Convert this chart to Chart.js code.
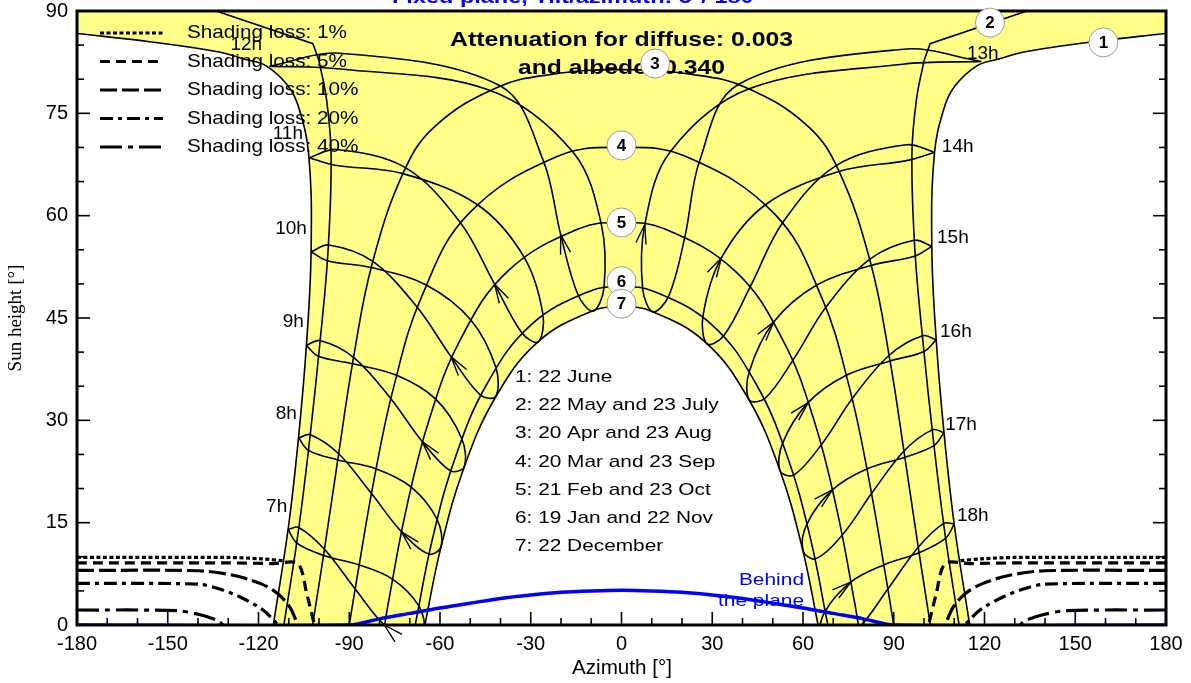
<!DOCTYPE html>
<html>
<head>
<meta charset="utf-8">
<script src="https://cdn.jsdelivr.net/npm/chart.js@4.4.0/dist/chart.umd.min.js"></script>
<style>
  html, body { margin: 0; padding: 0; background: #fff; }
  canvas { display: block; }
</style>
</head>
<body>
<canvas id="chart" width="1191" height="683"></canvas>
<script>
// AXES
const xTicks = [-180, -150, -120, -90, -60, -30, 0, 30, 60, 90, 120, 150, 180];
const yTicks = [0, 15, 30, 45, 60, 75, 90];

// SUN PATHS [azimuth, height]
const path1West = [[-115.1,0],[-110.1,14.4],[-106.7,27.8],[-104.1,41.4],[-102.6,55.1],[-103.4,68.9],[-106.6,75.7],[-110.2,79.0],[-117.6,82.0],[-125.0,83.0],[-133.0,84.0],[-156.0,85.5],[-180.0,86.7]];
const path1East = [[180.0,86.7],[156.0,85.5],[133.0,84.0],[125.0,83.0],[117.6,82.0],[110.2,79.0],[106.6,75.7],[103.4,68.9],[102.6,55.1],[104.1,41.4],[106.7,27.8],[110.1,14.4],[115.1,0]];
const path2West = [[-111.6,0],[-106.9,13.5],[-103.1,27.1],[-99.8,40.9],[-97.0,54.9],[-96.0,68.9],[-97.5,77.0],[-100.0,82.7]];
const path2WestTop = [[-100.0,82.7],[-102.0,85.2],[-134.0,90.0],[-166.0,94.8]];
const path2East = [[100.0,82.7],[97.5,77.0],[96.0,68.9],[97.0,54.9],[99.8,40.9],[103.1,27.1],[106.9,13.5],[111.6,0]];
const path2EastTop = [[166.0,94.8],[134.0,90.0],[102.0,85.2],[100.0,82.7]];
const path3 = [[-102.1,0],[-98.3,10.8],[-93.6,24.8],[-88.7,38.9],[-82.4,53.0],[-71.7,66.7],[-61.4,73.2],[-41.1,78.8],[-23.3,80.7],[0,81.4],[23.3,80.7],[41.1,78.8],[61.4,73.2],[71.7,66.7],[82.4,53.0],[88.7,38.9],[93.6,24.8],[98.3,10.8],[102.1,0]];
const path4 = [[-90,0],[-87.4,7.0],[-81.9,21.1],[-75.3,34.9],[-66.0,48.2],[-50.5,60.3],[-21.1,68.7],[0,70.0],[21.1,68.7],[50.5,60.3],[66.0,48.2],[75.3,34.9],[81.9,21.1],[87.4,7.0],[90,0]];
const path5 = [[-78.3,0],[-77.1,3.2],[-71.3,16.7],[-63.8,29.8],[-53.3,41.8],[-37.5,51.9],[-14.0,58.1],[0,59.0],[14.0,58.1],[37.5,51.9],[53.3,41.8],[63.8,29.8],[71.3,16.7],[77.1,3.2],[78.3,0]];
const path6 = [[-68.2,0],[-62.5,12.6],[-54.9,24.6],[-44.4,35.4],[-29.9,44.0],[-10.7,48.9],[0,49.6],[10.7,48.9],[29.9,44.0],[44.4,35.4],[54.9,24.6],[62.5,12.6],[68.2,0]];
const path7 = [[-65.0,0],[-59.8,11.2],[-52.2,22.9],[-41.9,33.2],[-27.9,41.4],[-9.9,46.0],[0,46.6],[9.9,46.0],[27.9,41.4],[41.9,33.2],[52.2,22.9],[59.8,11.2],[65.0,0]];

// HOUR LINES (Jun, Jul, Aug, Sep, Oct, Nov, Dec, Jan, Feb, Mar, Apr, May)
const hour7  = [[-110.2,14.0],[-107.3,12.0],[-98.5,10.2],[-86.7,8.8],[-75.6,6.7],[-67.0,2.8],[-65.3,-1.0],[-69.3,-2.5],[-78.4,0.0],[-88.1,5.3],[-98.2,11.1],[-106.7,14.3]];
const hour8  = [[-106.7,27.4],[-103.5,25.6],[-93.8,24.2],[-81.2,22.9],[-69.5,20.2],[-61.0,15.5],[-59.6,11.5],[-63.7,10.4],[-72.8,13.7],[-82.7,19.3],[-93.5,25.1],[-102.9,27.9]];
const hour9  = [[-104.2,41.0],[-100.2,39.4],[-88.9,38.3],[-74.3,36.6],[-61.4,33.1],[-52.8,27.3],[-52.0,23.2],[-56.5,22.6],[-65.9,26.9],[-76.3,33.2],[-88.5,39.2],[-99.7,41.7]];
const hour10 = [[-102.6,54.7],[-97.3,53.4],[-82.7,52.4],[-64.4,49.8],[-49.8,44.7],[-41.5,37.7],[-41.6,33.5],[-46.6,33.7],[-56.3,39.3],[-67.6,46.6],[-82.2,53.3],[-96.8,55.7]];
const hour11 = [[-103.2,68.5],[-94.7,67.4],[-72.6,66.2],[-47.6,61.6],[-32.3,54.0],[-26.0,45.6],[-27.5,41.5],[-32.9,42.8],[-42.0,50.0],[-53.3,59.0],[-71.3,67.0],[-94.3,69.7]];
const hour12 = [[-116.4,81.9],[-92.9,81.5],[-43.6,78.4],[-16.0,69.3],[-6.7,58.8],[-5.8,49.4],[-9.4,46.0],[-14.4,48.4],[-20.1,57.2],[-25.8,68.0],[-40.0,79.0],[-93.0,83.8]];
const hour13 = [[119.0,82.6],[93.1,84.4],[38.5,79.2],[25.8,68.0],[21.0,57.0],[15.6,48.2],[10.4,45.9],[7.0,49.3],[7.7,58.7],[16.0,69.3],[42.2,78.6],[92.9,82.2]];
const hour14 = [[103.6,69.3],[94.2,70.4],[70.8,67.3],[53.3,59.0],[42.7,49.7],[33.8,42.4],[28.3,41.2],[26.9,45.2],[33.0,53.8],[47.6,61.6],[72.1,66.5],[94.6,68.1]];
const hour15 = [[102.6,55.5],[96.7,56.4],[82.0,53.6],[67.6,46.6],[56.8,38.9],[47.4,33.2],[42.2,33.0],[42.2,37.1],[50.3,44.4],[64.4,49.8],[82.5,52.7],[97.1,54.1]];
const hour16 = [[104.0,41.8],[99.5,42.4],[88.4,39.5],[76.3,33.2],[66.2,26.5],[57.0,22.0],[52.4,22.6],[53.3,26.7],[61.7,32.6],[74.3,36.6],[88.8,38.7],[100.0,40.1]];
const hour17 = [[106.6,28.2],[102.7,28.6],[93.4,25.5],[82.7,19.3],[73.0,13.2],[64.1,9.7],[60.0,10.9],[61.3,14.8],[69.7,19.8],[81.2,22.9],[93.7,24.6],[103.3,26.3]];
const hour18 = [[110.0,14.8],[106.5,14.9],[98.1,11.4],[88.1,5.3],[78.6,-0.4],[69.7,-3.3],[65.6,-1.7],[67.3,2.0],[75.8,6.3],[86.7,8.8],[98.4,10.6],[107.1,12.7]];
const hourNames = ["7h","8h","9h","10h","11h","12h","13h","14h","15h","16h","17h","18h"];

// BEHIND THE PLANE
const behindPlane = [[-180,0],[-90,0],[-80,0.9],[-70,1.7],[-60,2.5],[-50,3.2],[-40,3.9],[-30,4.4],[-20,4.8],[-10,5.0],[0,5.1],[10,5.0],[20,4.8],[30,4.4],[40,3.9],[50,3.2],[60,2.5],[70,1.7],[80,0.9],[90,0],[180,0]];

// SHADING LOSS (iso-curves)
const loss1West  = [[-180,9.9],[-130,9.9],[-119,9.7],[-111.5,9.4]];
const loss1East  = [[180,9.9],[130,9.9],[119,9.7],[111.5,9.4]];
const loss5West  = [[-180,9.1],[-130,9.1],[-115,9.0],[-107,9.0],[-104,4.5],[-101.5,0]];
const loss5East  = [[180,9.1],[130,9.1],[115,9.0],[107,9.0],[104,4.5],[101.5,0]];
const loss10West = [[-180,8.0],[-140,7.95],[-128.4,7.3],[-119.5,6.1],[-113.9,4.7],[-109.6,2.6],[-107,0]];
const loss10East = [[180,8.0],[140,7.95],[128.4,7.3],[119.5,6.1],[113.9,4.7],[109.6,2.6],[107,0]];
const loss20West = [[-180,6.1],[-140.3,6.0],[-133.7,5.4],[-126.1,4.1],[-118.5,2.2],[-113.5,0]];
const loss20East = [[180,6.1],[140.3,6.0],[133.7,5.4],[126.1,4.1],[118.5,2.2],[113.5,0]];
const loss40West = [[-180,2.2],[-147,2.1],[-139.3,1.5],[-133.7,0.7],[-131.7,0]];
const loss40East = [[180,2.2],[147,2.1],[139.3,1.5],[133.7,0.7],[131.7,0]];
const lossLabels = ["Shading loss: 1%","Shading loss: 5%","Shading loss: 10%","Shading loss: 20%","Shading loss: 40%"];
const lossDashes = [[4,2.5],[10,6],[17,5],[13,5,4,5],[22,6,5,6]];

// TEXTS
const dateLabels = ["1: 22 June","2: 22 May and 23 July","3: 20 Apr and 23 Aug","4: 20 Mar and 23 Sep","5: 21 Feb and 23 Oct","6: 19 Jan and 22 Nov","7: 22 December"];
const titleText = "Fixed plane, Tilt/azimuth: 5°/ 180°";
const noteLines = ["Attenuation for diffuse: 0.003", "and albedo: 0.340"];

const SANS = '"Liberation Sans", Arial, sans-serif';
const toXY = arr => arr.map(p => ({x: p[0], y: p[1]}));

function curve(arr, extra) {
  return Object.assign({
    data: toXY(arr), borderColor: "#000", borderWidth: 1.6,
    pointRadius: 0, tension: 0.4, fill: false, order: 2
  }, extra || {});
}

// yellow zone: outer June path + top + inner December path
const dup = p => [p, p];
const rev7 = path7.slice().reverse();
const zone = [].concat(
  path1West, dup(path1West[path1West.length - 1]), [[-181, 96], [181, 96]],
  dup(path1East[0]), path1East, dup(path1East[path1East.length - 1]),
  dup(rev7[0]), rev7, dup(rev7[rev7.length - 1])
);

const hourLines = [hour7, hour8, hour9, hour10, hour11, hour12, hour13, hour14, hour15, hour16, hour17, hour18];

const datasets = [];
datasets.push({data: toXY(zone), borderWidth: 0, borderColor: "rgba(0,0,0,0)", backgroundColor: "#ffff88",
  fill: "shape", pointRadius: 0, tension: 0.4, order: 10});
[path1West, path1East, path2West, path2East, path3, path4, path5, path6, path7].forEach(p => datasets.push(curve(p)));
[path2WestTop, path2EastTop].forEach(p => datasets.push(curve(p, {tension: 0})));
hourLines.forEach(h => datasets.push(curve(h.concat([h[0]]), {tension: 0.35})));
datasets.push(curve(behindPlane, {borderColor: "#0000ff", borderWidth: 3.5, tension: 0.3, order: 1}));
[[loss1West, loss1East], [loss5West, loss5East], [loss10West, loss10East], [loss20West, loss20East], [loss40West, loss40East]]
  .forEach((pair, i) => pair.forEach(p => datasets.push(curve(p, {borderWidth: 3.2, borderDash: lossDashes[i], tension: 0.3, order: 0}))));

// label spots (azimuth, height, align)
const hourSpots = [[-110.5,17.3,"right"],[-107.3,31.0,"right"],[-105.0,44.4,"right"],[-104.0,58.1,"right"],[-105.3,72.0,"right"],[-118.8,85.1,"right"],
                   [114.2,83.7,"left"],[105.9,70.1,"left"],[104.3,56.7,"left"],[105.3,43.0,"left"],[107.0,29.3,"left"],[110.9,16.0,"left"]];
const circleSpots = [[159.3,85.4],[121.8,88.3],[11.1,82.3],[0,70.3],[0,59.0],[0,50.4],[0,47.1]];

// text stretched horizontally by factor sx
function stretchText(ctx, text, x, y, sx, align) {
  ctx.save();
  ctx.translate(x, y);
  ctx.scale(sx, 1);
  ctx.textAlign = align;
  ctx.fillText(text, 0, 0);
  ctx.restore();
}
function factorFor(ctx, sample, width) {
  return width / ctx.measureText(sample).width;
}

const decor = {
  id: "decor",
  afterDatasetsDraw(chart) {
    const {ctx, chartArea: a, scales: {x, y}} = chart;
    const seg = (x1, y1, x2, y2) => { ctx.beginPath(); ctx.moveTo(x1, y1); ctx.lineTo(x2, y2); ctx.stroke(); };
    ctx.save();
    ctx.strokeStyle = "#000";
    ctx.fillStyle = "#000";
    ctx.textBaseline = "middle";

    // arrows (Feb, pointing toward Mar)
    ctx.lineWidth = 1.4;
    hourLines.forEach(h => {
      const px = x.getPixelForValue(h[8][0]), py = y.getPixelForValue(h[8][1]);
      const dx = x.getPixelForValue(h[9][0]) - x.getPixelForValue(h[7][0]);
      const dy = y.getPixelForValue(h[9][1]) - y.getPixelForValue(h[7][1]);
      const ang = Math.atan2(dy, dx);
      [0.26, -0.26].forEach(d => seg(px, py, px - 20 * Math.cos(ang + d), py - 20 * Math.sin(ang + d)));
    });

    // frame and inner ticks
    ctx.lineWidth = 3;
    ctx.strokeRect(a.left, a.top, a.right - a.left, a.bottom - a.top);
    ctx.lineWidth = 1.6;
    for (let v = -170; v < 180; v += 10) {
      const px = x.getPixelForValue(v);
      seg(px, a.bottom, px, a.bottom - (v % 30 === 0 ? 13 : 7));
    }
    for (let v = 5; v < 90; v += 5) {
      const py = y.getPixelForValue(v);
      const len = v % 15 === 0 ? 13 : 7;
      seg(a.left, py, a.left + len, py);
      seg(a.right, py, a.right - len, py);
    }

    // shading loss legend
    ctx.font = "19px " + SANS;
    const fl = factorFor(ctx, lossLabels[0], 160);
    lossLabels.forEach((t, i) => {
      const ly = 33 + i * 28.5;
      ctx.lineWidth = 3.2;
      ctx.setLineDash(lossDashes[i]);
      seg(100, ly, 163, ly);
      ctx.setLineDash([]);
      stretchText(ctx, t, 187, ly, fl, "left");
    });

    // attenuation note
    ctx.font = "bold 21px " + SANS;
    stretchText(ctx, noteLines[0], 621.5, 40, factorFor(ctx, noteLines[0], 343), "center");
    stretchText(ctx, noteLines[1], 621.5, 68, factorFor(ctx, noteLines[1], 207), "center");

    // hour labels
    ctx.font = "19px " + SANS;
    hourSpots.forEach((s, i) => {
      ctx.textAlign = s[2];
      ctx.fillText(hourNames[i], x.getPixelForValue(s[0]), y.getPixelForValue(s[1]));
    });

    // date legend
    ctx.font = "17px " + SANS;
    const fd = factorFor(ctx, dateLabels[5], 198);
    dateLabels.forEach((t, i) => stretchText(ctx, t, 515, 377 + i * 28.3, fd, "left"));

    // date circles
    circleSpots.forEach((s, i) => {
      const cx = x.getPixelForValue(s[0]), cy = y.getPixelForValue(s[1]);
      ctx.beginPath();
      ctx.arc(cx, cy, 14.5, 0, Math.PI * 2);
      ctx.fillStyle = "#fff";
      ctx.fill();
      ctx.lineWidth = 1;
      ctx.strokeStyle = "#999";
      ctx.stroke();
      ctx.fillStyle = "#000";
      ctx.font = "bold 17px " + SANS;
      ctx.textAlign = "center";
      ctx.fillText(String(i + 1), cx, cy + 1);
    });

    // behind the plane
    ctx.fillStyle = "#0000ff";
    ctx.font = "17px " + SANS;
    const fb = factorFor(ctx, "the plane", 86);
    stretchText(ctx, "Behind", 804, 580, fb, "right");
    stretchText(ctx, "the plane", 804, 601, fb, "right");

    // title (cut at top)
    ctx.font = "bold 19px " + SANS;
    ctx.textBaseline = "alphabetic";
    stretchText(ctx, titleText, 577.5, 3, factorFor(ctx, titleText, 371), "center");

    // axis titles
    ctx.fillStyle = "#000";
    ctx.font = "20px " + SANS;
    ctx.textBaseline = "middle";
    stretchText(ctx, "Azimuth [°]", 622, 668, factorFor(ctx, "Azimuth [°]", 100), "center");
    ctx.save();
    ctx.translate(16, 318);
    ctx.rotate(-Math.PI / 2);
    ctx.font = '19px "Liberation Serif", "Times New Roman", serif';
    ctx.textAlign = "center";
    ctx.fillText("Sun height [°]", 0, 0);
    ctx.restore();

    ctx.restore();
  }
};

new Chart(document.getElementById("chart"), {
  type: "line",
  data: {datasets: datasets},
  options: {
    responsive: false,
    devicePixelRatio: 1,
    animation: false,
    layout: {padding: {left: 0, right: 25, top: 11, bottom: 0}},
    elements: {line: {capBezierPoints: false, borderCapStyle: "butt"}},
    plugins: {legend: {display: false}, tooltip: {enabled: false}},
    scales: {
      x: {
        type: "linear", min: -180, max: 180,
        afterFit: s => { s.height = 58; s.paddingLeft = 0; s.paddingRight = 0; },
        afterBuildTicks: s => { s.ticks = xTicks.map(v => ({value: v})); },
        ticks: {padding: 7, color: "#000", maxRotation: 0, autoSkip: false, font: {size: 20, family: SANS}},
        grid: {display: false, drawTicks: false},
        border: {display: false}
      },
      y: {
        type: "linear", min: 0, max: 90,
        afterFit: s => { s.width = 77; s.paddingTop = 0; s.paddingBottom = 0; },
        afterBuildTicks: s => { s.ticks = yTicks.map(v => ({value: v})); },
        ticks: {padding: 9, color: "#000", font: {size: 20, family: SANS}},
        grid: {display: false, drawTicks: false},
        border: {display: false}
      }
    }
  },
  plugins: [decor]
});
</script>
</body>
</html>
